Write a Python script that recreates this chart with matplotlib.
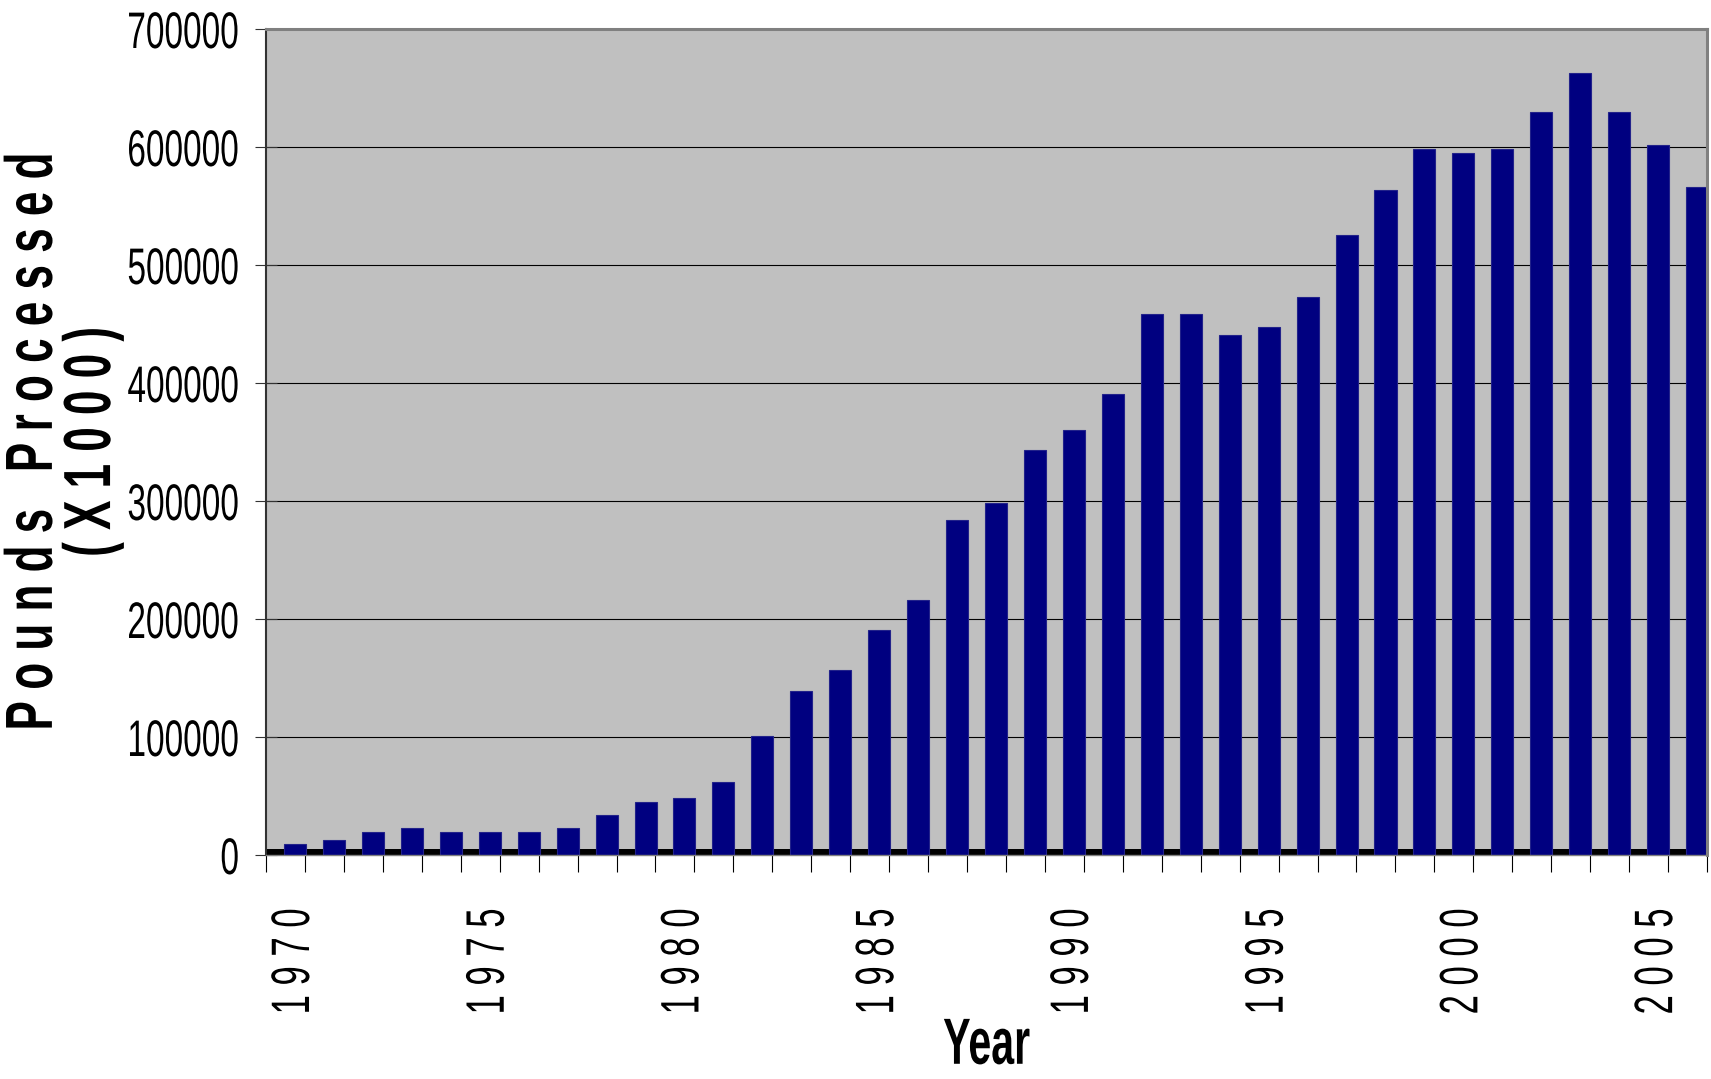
import numpy as np
import matplotlib
matplotlib.use('Agg')
from matplotlib import pyplot as plt
from matplotlib import patheffects
from matplotlib.transforms import Affine2D, Bbox


# pounds processed per year, thousands
years = list(range(1970, 2007))
pounds = [9000, 13000, 19500, 23000, 19500, 19500, 19500, 23000, 33500, 44500,
          48000, 62000, 101000, 139000, 156500, 191000, 216000, 284000, 298000, 343000,
          360500, 391000, 458500, 458500, 440500, 447500, 472500, 525500, 563500, 598000,
          595000, 598000, 630000, 662500, 630000, 601500, 566500]
label_years = years[::5]
y_ticks = list(range(0, 700001, 100000))


class Squeeze(patheffects.AbstractPathEffect):
    # narrows glyphs along the text direction (condensed look)
    def __init__(self, sx, anchor='center'):
        super().__init__()
        self.sx = sx
        self.anchor = anchor

    def draw_path(self, renderer, gc, tpath, affine, rgbFace=None):
        if len(tpath.vertices) == 0:
            return
        ext = tpath.get_extents()
        x0 = {'left': ext.x0, 'center': 0.5 * (ext.x0 + ext.x1), 'right': ext.x1}[self.anchor]
        squeeze = Affine2D().translate(-x0, 0).scale(self.sx, 1.0).translate(x0, 0)
        renderer.draw_path(gc, tpath, squeeze + affine, rgbFace)


def condense(text, sx, anchor='center'):
    # draw the text narrower and report the narrower box as its extent
    text.set_path_effects([Squeeze(sx, anchor)])
    full_extent = text.get_window_extent
    vertical = abs(text.get_rotation() - 90) < 1

    def squeezed_extent(renderer=None, dpi=None):
        bb = full_extent(renderer, dpi)
        a0, a1 = (bb.y0, bb.y1) if vertical else (bb.x0, bb.x1)
        if anchor == 'right':
            a0 = a1 - sx * (a1 - a0)
        elif anchor == 'left':
            a1 = a0 + sx * (a1 - a0)
        else:
            mid, half = 0.5 * (a0 + a1), 0.5 * sx * (a1 - a0)
            a0, a1 = mid - half, mid + half
        if vertical:
            return Bbox.from_extents(bb.x0, a0, bb.x1, a1)
        return Bbox.from_extents(a0, bb.y0, a1, bb.y1)

    text.get_window_extent = squeezed_extent


def main():
    plt.rcParams['font.family'] = 'Liberation Sans'

    fig = plt.figure(figsize=(17.11, 10.79), dpi=100)
    ax = fig.add_axes([266 / 1711, 1 - 855 / 1079, 1441 / 1711, 826 / 1079])
    ax.set_facecolor('#c0c0c0')
    ax.set_axisbelow(True)

    n = len(years)
    x = np.arange(n)
    tick_shift = 0.245  # category ticks sit a bit left of the bars

    # black floor strip under the bars
    ax.axhspan(0, 5000, color='black', lw=0, zorder=1.5)
    ax.bar(x, pounds, width=0.565, color='#000080', edgecolor='#22228a',
           linewidth=0.8, zorder=2)

    ax.set_xlim(-0.5 - tick_shift, n - 0.5 - tick_shift)
    ax.set_ylim(0, 700000)

    # y axis
    ax.set_yticks(y_ticks)
    ax.set_yticklabels([str(v) for v in y_ticks])
    ax.yaxis.grid(True, color='black', linewidth=0.8)
    ax.tick_params(axis='y', direction='inout', length=15.8, width=0.8,
                   color='#333333', pad=11, labelsize=37)

    # x axis: labels every 5 years, ticks on category borders
    ax.set_xticks(x[::5])
    ax.set_xticklabels([' '.join(str(y)) for y in label_years], rotation=90)
    ax.set_xticks(np.arange(n + 1) - 0.5 - tick_shift, minor=True)
    ax.tick_params(axis='x', which='major', length=0, pad=38, labelsize=39)
    ax.tick_params(axis='x', which='minor', direction='out', length=12.2,
                   width=0.8, color='black')

    for side in ['top', 'right']:
        ax.spines[side].set_color('#808080')
        ax.spines[side].set_linewidth(2.2)
    ax.spines['left'].set_color('#333333')
    ax.spines['left'].set_linewidth(1.5)
    ax.spines['bottom'].set_color('#808080')
    ax.spines['bottom'].set_linewidth(1.0)

    ax.set_ylabel(' '.join('Pounds Processed') + '\n' + ' '.join('(X1000)'),
                  fontsize=48, fontweight='bold', linespacing=0.92, va='center')
    ax.yaxis.set_label_coords(-0.1402, 0.5)
    ax.set_xlabel('Year', fontsize=47, fontweight='bold', va='bottom')
    ax.xaxis.set_label_coords(0.5, -0.2685)

    for lbl in ax.get_yticklabels():
        condense(lbl, 0.65, 'right')
    for lbl in ax.get_xticklabels():
        condense(lbl, 0.64, 'right')
    condense(ax.yaxis.label, 0.66, 'center')
    condense(ax.xaxis.label, 0.63, 'center')

    fig.savefig('out.png', dpi=100)


if __name__ == "__main__":
    main()
